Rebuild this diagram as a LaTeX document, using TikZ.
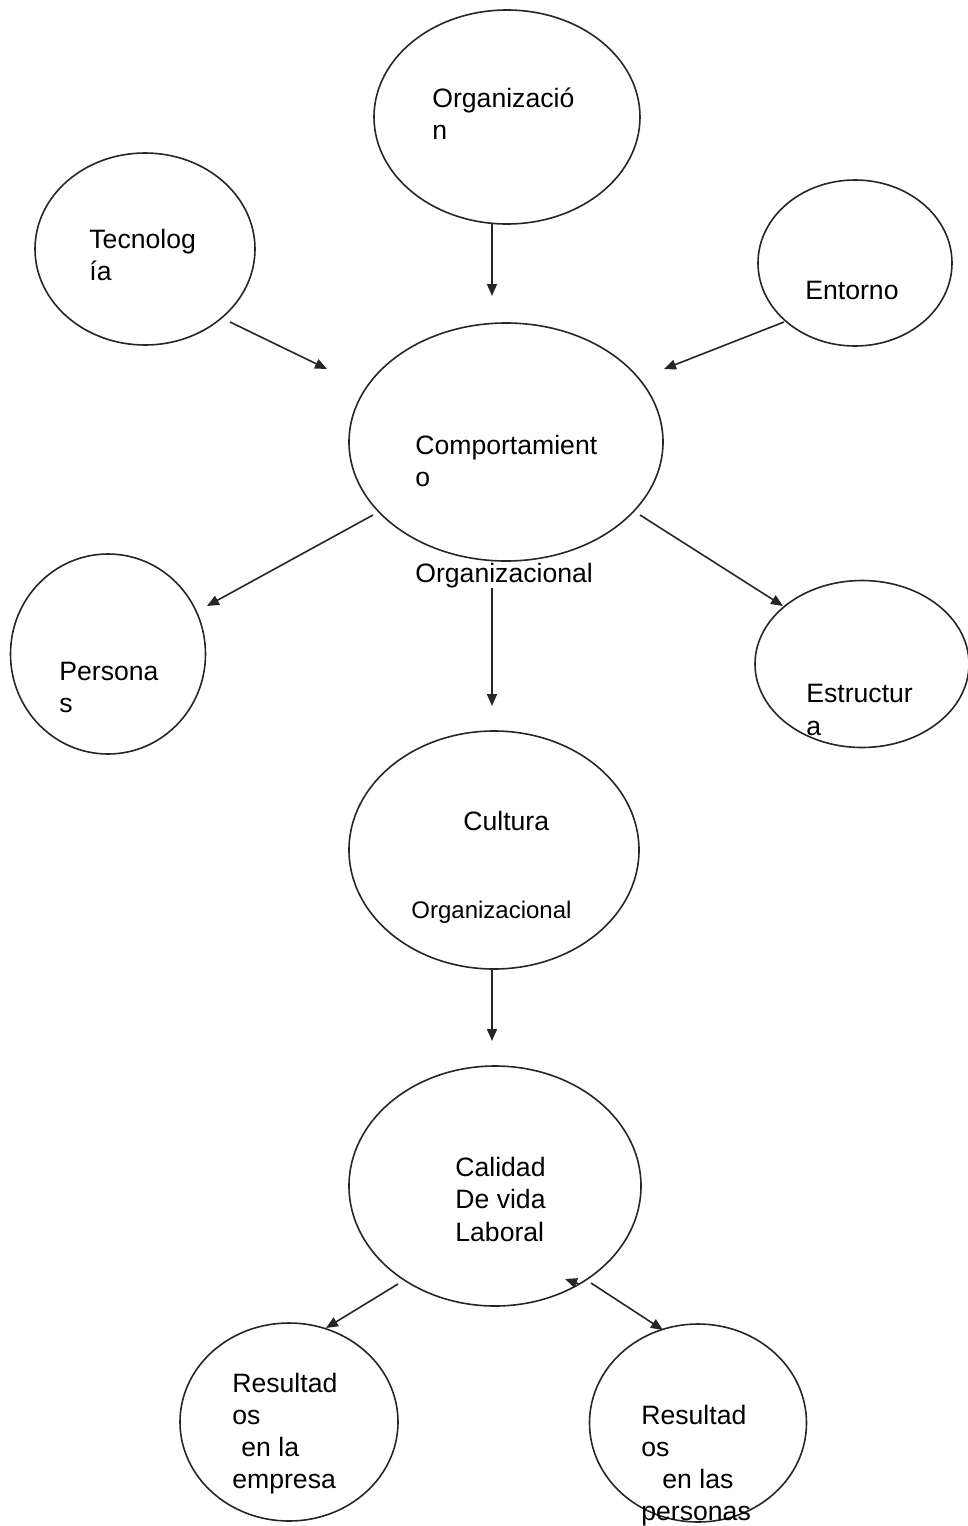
\documentclass[tikz,border=0pt]{standalone}
\usepackage{fontspec}
\setmainfont{Liberation Sans}
\usetikzlibrary{shapes.geometric,arrows.meta}
\begin{document}
\begin{tikzpicture}[x=0.5pt,y=-0.5pt,
  bub/.style={draw=black!85,line width=0.8pt,ellipse,inner sep=0pt},
  lbl/.style={anchor=base west,inner sep=0pt,font=\fontsize{13.3}{16}\selectfont},
  lbls/.style={anchor=base west,inner sep=0pt,font=\fontsize{12}{14}\selectfont},
  arr/.style={draw=black!85,line width=0.8pt,-{Triangle[length=6pt,width=5pt]}}]
\useasboundingbox (0,0) rectangle (968,1526);
% ellipses
\node[bub,minimum width=133pt,minimum height=107pt] (org) at (507,117) {};
\node[bub,minimum width=110pt,minimum height=96pt] (tec) at (145,249) {};
\node[bub,minimum width=97pt,minimum height=83pt] (ent) at (855,263) {};
\node[bub,minimum width=157pt,minimum height=119pt] (com) at (506,442) {};
\node[bub,minimum width=97.5pt,minimum height=100pt] (per) at (108,654) {};
\node[bub,minimum width=107pt,minimum height=83.5pt] (est) at (862,664) {};
\node[bub,minimum width=145pt,minimum height=119pt] (cul) at (494,850) {};
\node[bub,minimum width=146pt,minimum height=120pt] (cal) at (495,1186) {};
\node[bub,minimum width=109pt,minimum height=99pt] (rem) at (289,1422) {};
\node[bub,minimum width=108.5pt,minimum height=99pt] (rpe) at (698,1423) {};
% labels
\node[lbl] (t1) at (432,107) {Organizació};
\node[lbl] (t2) at (432,139) {n};
\node[lbl] (t3) at (89,248) {Tecnolog};
\node[lbl] (t4) at (89,280) {ía};
\node[lbl] (t5) at (805,299) {Entorno};
\node[lbl] (t6) at (415,454) {Comportamient};
\node[lbl] (t7) at (415,486) {o};
\node[lbl] (t8) at (415,582) {Organizacional};
\node[lbl] (t9) at (59,680) {Persona};
\node[lbl] (t10) at (59,712) {s};
\node[lbl] (t11) at (806,702) {Estructur};
\node[lbl] (t12) at (806,735) {a};
\node[lbl] (t13) at (463,830) {Cultura};
\node[lbls] (t14) at (411,918) {Organizacional};
\node[lbl] (t15) at (455,1176) {Calidad};
\node[lbl] (t16) at (455,1208) {De vida};
\node[lbl] (t17) at (455,1241) {Laboral};
\node[lbl] (t18) at (232,1392) {Resultad};
\node[lbl] (t19) at (232,1424) {os};
\node[lbl] (t20) at (241,1456) {en la};
\node[lbl] (t21) at (232,1488) {empresa};
\node[lbl] (t22) at (641,1424) {Resultad};
\node[lbl] (t23) at (641,1456) {os};
\node[lbl] (t24) at (662,1488) {en las};
\node[lbl] (t25) at (641,1520) {personas};
% connector end points
\coordinate (a1s) at (492,224);
\coordinate (a1e) at (492,296);
\coordinate (a2s) at (230,322);
\coordinate (a2e) at (327,369);
\coordinate (a3s) at (784,322);
\coordinate (a3e) at (664,369);
\coordinate (a4s) at (373,515);
\coordinate (a4e) at (207,606);
\coordinate (a5s) at (640,515);
\coordinate (a5e) at (783,606);
\coordinate (a6s) at (492,588);
\coordinate (a6e) at (492,706);
\coordinate (a7s) at (492,969);
\coordinate (a7e) at (492,1041);
\coordinate (a8s) at (398,1284);
\coordinate (a8e) at (326,1328);
\coordinate (a9s) at (591,1283);
\coordinate (a9e) at (663,1330);
\coordinate (a10s) at (579,1284);
\coordinate (a10e) at (565,1279);
% connectors
\draw[arr] (a1s) -- (a1e);
\draw[arr] (a2s) -- (a2e);
\draw[arr] (a3s) -- (a3e);
\draw[arr] (a4s) -- (a4e);
\draw[arr] (a5s) -- (a5e);
\draw[arr] (a6s) -- (a6e);
\draw[arr] (a7s) -- (a7e);
\draw[arr] (a8s) -- (a8e);
\draw[arr] (a9s) -- (a9e);
\draw[arr] (a10s) -- (a10e);
\end{tikzpicture}
\end{document}
